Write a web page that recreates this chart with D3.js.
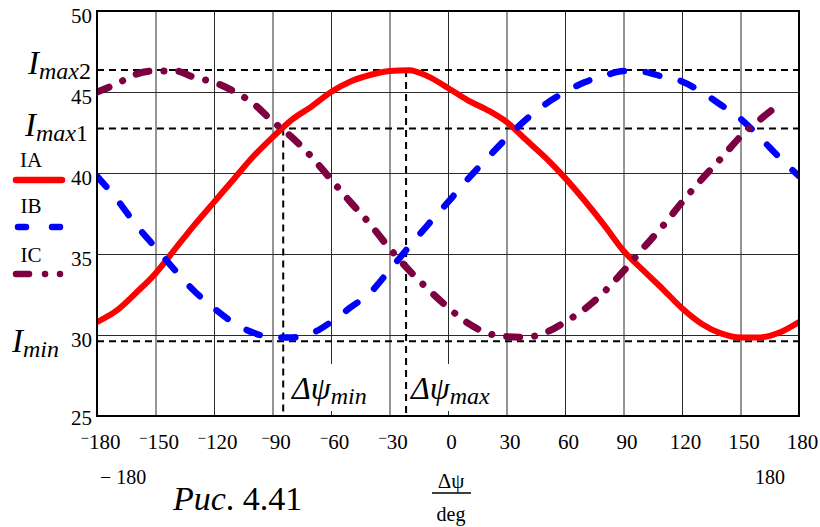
<!DOCTYPE html>
<html>
<head>
<meta charset="utf-8">
<script src="https://cdn.jsdelivr.net/npm/d3@7"></script>
<style>
  html, body { margin: 0; padding: 0; background: #fff; }
  svg text { font-family: "Liberation Serif", "Times New Roman", serif; fill: #000; }
</style>
</head>
<body>
<svg id="chart" width="820" height="527"></svg>
<script>
// ---- data ----
const angles = [-180,-170,-160,-150,-140,-130,-120,-110,-100,-90,-80,-70,-60,-50,-40,-30,-20,-10,0,
                10,20,30,40,50,60,70,80,90,100,110,120,130,140,150,160,170,180];
const IA = [30.8,31.5,32.6,33.8,35.3,36.8,38.2,39.6,41.0,42.2,43.3,44.1,45.0,45.65,46.05,46.3,46.35,45.95,45.25,
            44.5,43.9,43.15,42.05,40.95,39.7,38.3,36.8,35.2,34.0,32.85,31.65,30.7,30.1,29.85,29.85,30.15,30.8];
const IB = [39.8,38.4,36.8,35.4,34.0,32.7,31.65,30.75,30.15,29.85,29.85,30.1,30.8,31.7,32.6,34.0,35.45,36.85,38.2,
            39.6,40.9,42.15,43.3,44.25,45.0,45.6,46.0,46.3,46.25,45.95,45.65,45.0,44.2,43.35,42.2,40.95,39.8];
const IC = [45.0,45.5,46.1,46.3,46.3,45.9,45.6,45.05,44.3,43.2,42.2,41.0,39.6,38.2,36.85,35.35,34.0,32.8,31.7,
            30.75,30.12,29.9,29.86,30.15,30.8,31.6,32.65,33.95,35.35,36.7,38.2,39.6,40.9,42.25,43.3,44.25,null];
const seriesNames = ["IA","IB","IC"];
const xTicks = [-180,-150,-120,-90,-60,-30,0,30,60,90,120,150,180];
const yTicks = [25,30,35,40,45,50];
const refNames = ["max2","max1","min"];
const refValues = [46.36,42.74,29.61];
const psiMin = -84.5, psiMax = -21.5;

// ---- layout ----
const L = 97, R = 799, T = 11, B = 416;
const svg = d3.select("#chart");
svg.append("rect").attr("width",820).attr("height",527).attr("fill","#fff");
const x = d3.scaleLinear().domain([-180,180]).range([L,R]);
const y = d3.scaleLinear().domain([25,50]).range([B,T]);

// grid + y axis
const gy = svg.append("g").attr("transform",`translate(${L},0)`)
  .call(d3.axisLeft(y).tickValues(yTicks).tickSize(-(R-L)).tickSizeOuter(0).tickPadding(5).tickFormat(d3.format("d")));
gy.select(".domain").remove();
gy.selectAll("line").attr("stroke","#2a2a2a").attr("stroke-width",1);
gy.selectAll("text").attr("font-size",21).attr("x",-5)
  .attr("dy", d => d === 25 ? "8px" : "11px");

// grid + x axis
const gx = svg.append("g").attr("transform",`translate(0,${B})`)
  .call(d3.axisBottom(x).tickValues(xTicks).tickSize(-(B-T)).tickSizeOuter(0));
gx.select(".domain").remove();
gx.selectAll("line").attr("stroke","#2a2a2a").attr("stroke-width",1);
gx.selectAll("text").each(function(d){
  const t = d3.select(this);
  t.text(null).attr("font-size",21).attr("x",3).attr("y",33).attr("dy",0).attr("text-anchor","middle");
  if (d < 0) {
    t.append("tspan").attr("font-size",15).attr("dy",-6).text("\u2212");
    t.append("tspan").attr("dy",6).text(Math.abs(d));
  } else {
    t.text(d);
  }
});

// white text regions of the Δψ labels
const lblBoxes = [[287,385],[409,504]];
svg.selectAll("rect.lbl").data(lblBoxes).join("rect").attr("class","lbl")
  .attr("x",d=>d[0]).attr("y",364).attr("width",d=>d[1]-d[0]).attr("height",47).attr("fill","#fff");

// dashed reference lines
const refG = svg.append("g").attr("stroke","#000").attr("stroke-width",2).attr("stroke-dasharray","7,5").attr("fill","none");
refValues.forEach(v => refG.append("line").attr("x1",L).attr("x2",R+2).attr("y1",y(v)).attr("y2",y(v)));
refG.append("line").attr("x1",x(psiMin)).attr("x2",x(psiMin)).attr("y1",y(refValues[1])).attr("y2",B);
refG.append("line").attr("x1",x(psiMax)).attr("x2",x(psiMax)).attr("y1",y(refValues[0])).attr("y2",B);

// curves
svg.append("clipPath").attr("id","plotclip").append("rect").attr("x",L).attr("y",T).attr("width",R-L).attr("height",B-T);
const styles = {
  IA: {color:"#ff0000", w:6, dash:null},
  IB: {color:"#0000ff", w:6.5, dash:"14,22"},
  IC: {color:"#7d0040", w:7, dash:"13,15,0.1,15"}
};
const seriesData = {IA, IB, IC};
const line = d3.line().defined(d => d[1] != null).curve(d3.curveMonotoneX).x(d => x(d[0])).y(d => y(d[1]));
const cg = svg.append("g").attr("clip-path","url(#plotclip)");
seriesNames.forEach(n => {
  const s = styles[n];
  cg.append("path").datum(angles.map((a,i)=>[a, seriesData[n][i]]))
    .attr("d", line).attr("fill","none").attr("stroke",s.color).attr("stroke-width",s.w)
    .attr("stroke-linecap","round").attr("stroke-linejoin","round")
    .attr("stroke-dasharray", s.dash);
});

// border
svg.append("rect").attr("x",L).attr("y",T).attr("width",R-L).attr("height",B-T)
  .attr("fill","none").attr("stroke","#000").attr("stroke-width",2);

// legend
const legY = [[167,180],[213,227],[262,274]];
const legDash = {IA:{x1:16,x2:62,dash:null}, IB:{x1:18,x2:60,dash:"8,26"}, IC:{x1:16,x2:60,dash:"13,16,0.1,14.9,0.1,100"}};
seriesNames.forEach((n,i) => {
  svg.append("text").attr("x",31).attr("y",legY[i][0]).attr("font-size",21).attr("text-anchor","middle").text(n);
  const s = styles[n], ld = legDash[n];
  svg.append("line").attr("x1",ld.x1).attr("x2",ld.x2).attr("y1",legY[i][1]).attr("y2",legY[i][1])
    .attr("stroke",s.color).attr("stroke-width",6.5).attr("stroke-linecap","round").attr("stroke-dasharray",ld.dash);
});

// I labels
const iLab = [[28,74],[25,136],[12,352]];
refNames.forEach((n,i) => {
  const t = svg.append("text").attr("x",iLab[i][0]).attr("y",iLab[i][1]);
  t.append("tspan").attr("font-size",33).attr("font-style","italic").text("I");
  const letters = n.replace(/\d/g,""), digits = n.replace(/\D/g,"");
  t.append("tspan").attr("font-size",24).attr("font-style","italic").attr("dy",5).text(letters);
  if (digits) t.append("tspan").attr("font-size",24).text(digits);
});

// Δψ labels
[["min",292],["max",411]].forEach(([s,x0]) => {
  const t = svg.append("text").attr("x",x0).attr("y",399);
  t.append("tspan").attr("font-size",32).attr("font-style","italic").text("\u0394\u03c8");
  t.append("tspan").attr("font-size",24).attr("font-style","italic").attr("dy",5).text(s);
});

// limit labels, axis label and caption
svg.append("text").attr("x",100).attr("y",484).attr("font-size",20).text("\u2212 180");
svg.append("text").attr("x",755).attr("y",484).attr("font-size",20).text("180");
svg.append("text").attr("x",451).attr("y",488).attr("font-size",21).attr("text-anchor","middle").text("\u0394\u03c8");
svg.append("line").attr("x1",432).attr("x2",471).attr("y1",493).attr("y2",493).attr("stroke","#000").attr("stroke-width",1.5);
svg.append("text").attr("x",451).attr("y",521).attr("font-size",20).attr("text-anchor","middle").text("deg");
const cap = svg.append("text").attr("x",173).attr("y",510).attr("font-size",34);
cap.append("tspan").attr("font-style","italic").text("Рис");
cap.append("tspan").text(". 4.41");
</script>
</body>
</html>
